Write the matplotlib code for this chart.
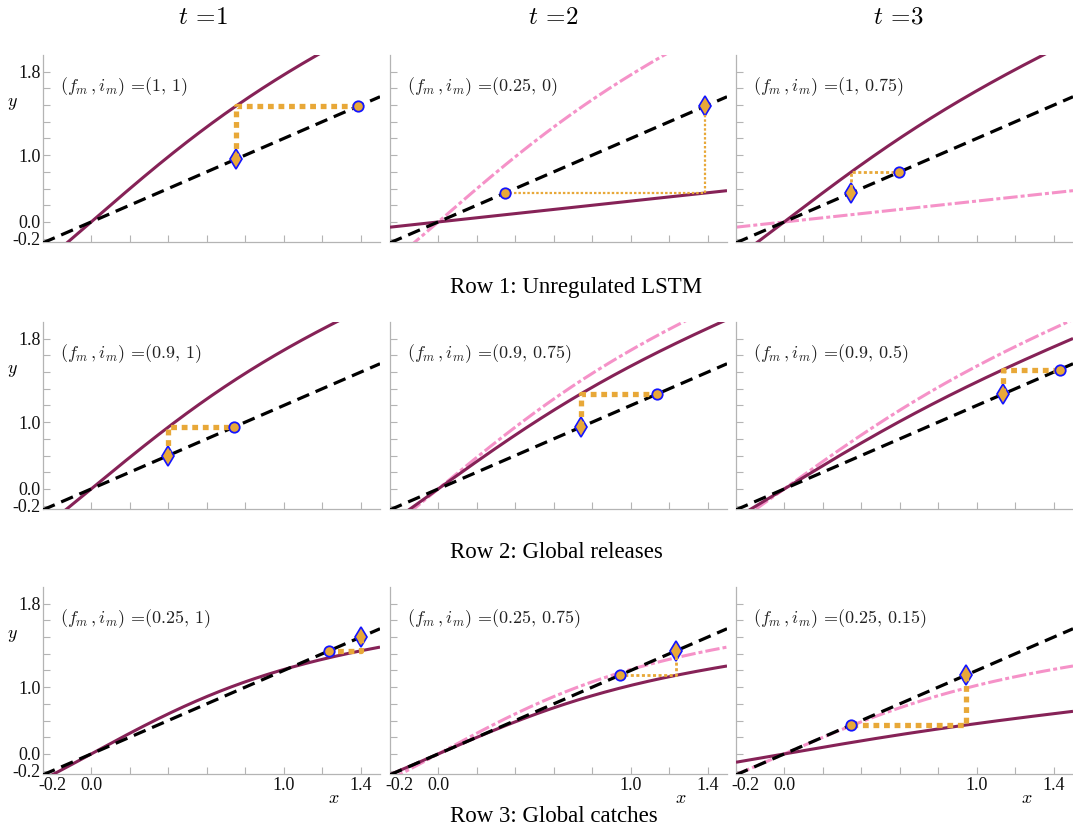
import numpy as np
import matplotlib
matplotlib.use("Agg")
import matplotlib.pyplot as plt

plt.rcParams["mathtext.fontset"] = "cm"
plt.rcParams["font.family"] = ["Liberation Serif", "DejaVu Serif"]

# gate values (f_m, i_m) per row / time step
f_vals = [[1, 0.25, 1],
          [0.9, 0.9, 0.9],
          [0.25, 0.25, 0.25]]
i_vals = [[1, 0, 0.75],
          [1, 0.75, 0.5],
          [1, 0.75, 0.15]]
f_labels = [["1", "0.25", "1"],
            ["0.9", "0.9", "0.9"],
            ["0.25", "0.25", "0.25"]]
i_labels = [["1", "0", "0.75"],
            ["1", "0.75", "0.5"],
            ["1", "0.75", "0.15"]]
# starting state of each row (diamond of t=1)
x_start = [0.75, 0.4, 1.4]
row_titles = ["Row 1: Unregulated LSTM", "Row 2: Global releases", "Row 3: Global catches"]
col_titles = [r"$t\,=\!1$", r"$t\,=\!2$", r"$t\,=\!3$"]

x_ticklabels = ["-0.2", "0.0", "1.0", "1.4"]
x_tickpos = [-0.2, 0.0, 1.0, 1.4]
y_ticklabels = ["-0.2", "0.0", "1.0", "1.8"]
y_tickpos = [-0.2, 0.0, 0.8, 1.8]

# cobweb dotted line width per panel
cob_lw = [[3.8, 1.6, 2.0],
          [3.8, 3.8, 3.8],
          [3.8, 2.0, 3.8]]

MAROON = "#862257"
PINK = "#f592c8"
ORANGE = "#e8a838"
BLUE = "#1414ff"
GRAY = "#b4b4b4"


def cell(x, f, i):
    return f * x + i * np.tanh(x)


W, H = 1073, 831
fig = plt.figure(figsize=(W / 100, H / 100), dpi=100)

col_left = [43, 390, 736]
row_top = [55, 322, 587]
aw, ah = 337, 187

xs = np.linspace(-0.25, 1.5, 400)

for r in range(3):
    x_now = x_start[r]
    for c in range(3):
        ax = fig.add_axes([col_left[c] / W, 1 - (row_top[r] + ah) / H, aw / W, ah / H])
        f, i = f_vals[r][c], i_vals[r][c]

        if c > 0:
            ax.plot(xs, cell(xs, f_vals[r][c - 1], i_vals[r][c - 1]), color=PINK, lw=2.2,
                    dashes=(4.7, 1.0, 1.3, 1.0), zorder=2)
        ax.plot(xs, cell(xs, f, i), color=MAROON, lw=2.2, zorder=3, solid_capstyle="butt")
        ax.plot(xs, xs, color="black", lw=2.3, dashes=(4.0, 2.2), zorder=4)

        x_next = cell(x_now, f, i)
        ax.plot([x_now], [x_now], marker="d", ms=10.5, mfc=ORANGE, mec=BLUE, mew=1.2,
                ls="none", zorder=5)
        ax.plot([x_now, x_now, x_next], [x_now, x_next, x_next], color=ORANGE,
                lw=cob_lw[r][c], dashes=(1.1, 0.9), dash_capstyle="butt", zorder=6)
        ax.plot([x_next], [x_next], marker="o", ms=7.5, mfc=ORANGE, mec=BLUE, mew=1.3,
                ls="none", zorder=7)

        ax.text(0.05, 0.83, r"$(f_m\,, i_m)\,=\!(%s,\, %s)$" % (f_labels[r][c], i_labels[r][c]),
                transform=ax.transAxes, fontsize=13, va="center", ha="left", color="#222222")

        ax.set_xlim(-0.25, 1.5)
        ax.set_ylim(-0.24, 2.0)
        for s in ["top", "right"]:
            ax.spines[s].set_visible(False)
        for s in ["left", "bottom"]:
            ax.spines[s].set_color(GRAY)
            ax.spines[s].set_linewidth(0.9)

        ax.xaxis.remove_overlapping_locs = False
        ax.yaxis.remove_overlapping_locs = False
        ax.set_xticks(np.arange(0, 1.41, 0.2), minor=True)
        ax.set_yticks(np.arange(-0.2, 1.81, 0.2), minor=True)
        ax.set_xticks(x_tickpos)
        ax.set_yticks(y_tickpos)
        ax.set_xticklabels(x_ticklabels if r == 2 else [""] * 4)
        ax.set_yticklabels(y_ticklabels if c == 0 else [""] * 4)
        ax.tick_params(which="minor", direction="in", length=5, width=0.8, color=GRAY)
        ax.tick_params(which="major", length=0, labelsize=13, pad=2, labelcolor="#111111")
        ax.tick_params(axis="y", which="major", pad=1.5)

        if c == 0:
            ax.text(-0.092, 0.743, r"$y$", transform=ax.transAxes, fontsize=13,
                    ha="center", va="center")
        if r == 2:
            ax.text(0.864, -0.13, r"$x$", transform=ax.transAxes, fontsize=13,
                    ha="center", va="center")

        x_now = x_next

    fig.text(450 / W, 1 - (287 + 265 * r) / H, row_titles[r], fontsize=16.5,
             ha="left", va="center")

for c, xc in enumerate([203, 553, 898]):
    fig.text(xc / W, 1 - 18 / H, col_titles[c], fontsize=18, ha="center", va="center")

fig.savefig("out.png", dpi=100)
